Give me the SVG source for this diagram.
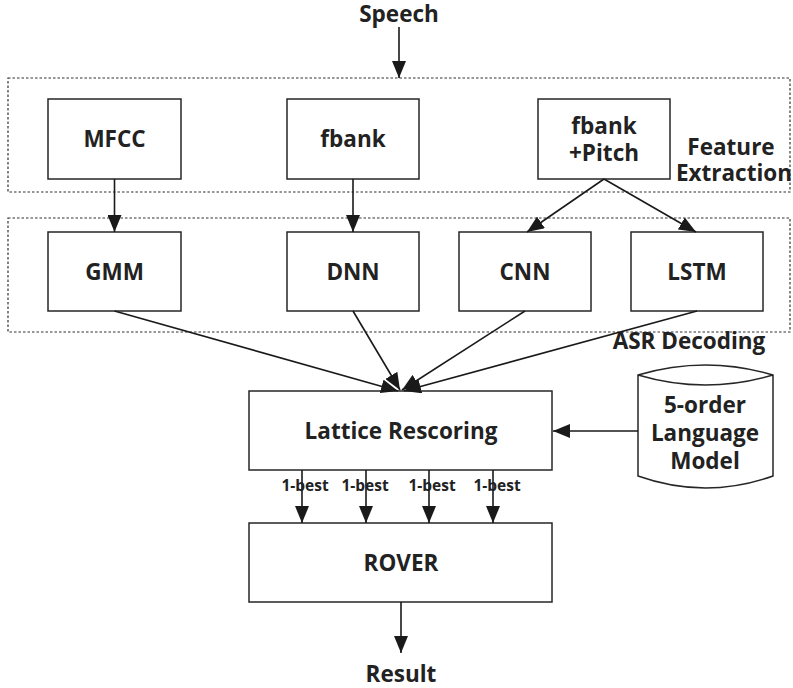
<svg xmlns="http://www.w3.org/2000/svg" width="793" height="688" viewBox="0 0 793 688">
<defs>
<style>
.box{fill:#fff;stroke:#262626;stroke-width:1.5}
.grp{fill:none;stroke:#333;stroke-width:1.2;stroke-dasharray:2.5,2}
.t{font-family:"Open Sans","Liberation Sans",sans-serif;font-weight:700;font-size:22.5px;fill:#222;text-anchor:middle}
.s{font-size:15.5px}
.c{fill:none;stroke:#1a1a1a;stroke-width:1.6}
</style>
<marker id="ah" markerUnits="userSpaceOnUse" markerWidth="18" markerHeight="14" refX="17" refY="7" orient="auto">
<path d="M0,0 L17,7 L0,14 z" fill="#1a1a1a"/>
</marker>
</defs>
<rect width="793" height="688" fill="#fff"/>
<g id="feature-extraction">
<rect class="grp" x="8" y="78" width="782" height="114"/>
<text class="t" x="731" y="155">Feature</text>
<text class="t" x="734" y="181">Extraction</text>
</g>
<g id="asr-decoding">
<rect class="grp" x="8" y="218" width="782" height="114"/>
<text class="t" x="689" y="349">ASR Decoding</text>
</g>
<g id="speech"><text class="t" x="399" y="22">Speech</text></g>
<g id="mfcc"><rect class="box" x="48" y="99" width="133" height="80"/><text class="t" x="114.5" y="147">MFCC</text></g>
<g id="fbank"><rect class="box" x="287" y="99" width="132" height="80"/><text class="t" x="353" y="147">fbank</text></g>
<g id="fbank-pitch"><rect class="box" x="538" y="99" width="132" height="80"/><text class="t" x="604" y="134">fbank</text><text class="t" x="604" y="161">+Pitch</text></g>
<g id="gmm"><rect class="box" x="48" y="232" width="133" height="79"/><text class="t" x="114.5" y="280">GMM</text></g>
<g id="dnn"><rect class="box" x="287" y="232" width="132" height="79"/><text class="t" x="353" y="280">DNN</text></g>
<g id="cnn"><rect class="box" x="459" y="232" width="132" height="79"/><text class="t" x="525" y="280">CNN</text></g>
<g id="lstm"><rect class="box" x="631" y="232" width="132" height="79"/><text class="t" x="697" y="280">LSTM</text></g>
<g id="lattice"><rect class="box" x="249" y="391" width="303" height="79"/><text class="t" x="401" y="439">Lattice Rescoring</text></g>
<g id="language-model">
<path class="box" d="M638,375 Q705.5,355 773,375 L773,476 Q705.5,500 638,476 Z"/>
<path class="c" style="stroke:#262626;stroke-width:1.5" d="M638,375 Q705.5,395 773,375"/>
<text class="t" x="705" y="413">5-order</text>
<text class="t" x="705" y="441">Language</text>
<text class="t" x="705" y="469">Model</text>
</g>
<g id="rover"><rect class="box" x="249" y="523" width="303" height="79"/><text class="t" x="401" y="571">ROVER</text></g>
<g id="result"><text class="t" x="401" y="682">Result</text></g>
<g id="connectors">
<line class="c" x1="399" y1="27" x2="399" y2="78" marker-end="url(#ah)"/>
<line class="c" x1="114.5" y1="179" x2="114.5" y2="232" marker-end="url(#ah)"/>
<line class="c" x1="353" y1="179" x2="353" y2="232" marker-end="url(#ah)"/>
<line class="c" x1="604" y1="179" x2="527" y2="232" marker-end="url(#ah)"/>
<line class="c" x1="604" y1="179" x2="696" y2="232" marker-end="url(#ah)"/>
<line class="c" x1="114.5" y1="311" x2="398" y2="391" marker-end="url(#ah)"/>
<line class="c" x1="353" y1="311" x2="400" y2="390" marker-end="url(#ah)"/>
<line class="c" x1="525" y1="311" x2="402" y2="390" marker-end="url(#ah)"/>
<line class="c" x1="697" y1="311" x2="404" y2="391" marker-end="url(#ah)"/>
<line class="c" x1="638" y1="431" x2="553" y2="431" marker-end="url(#ah)"/>
<line class="c" x1="302" y1="470" x2="302" y2="523" marker-end="url(#ah)"/>
<line class="c" x1="366" y1="470" x2="366" y2="523" marker-end="url(#ah)"/>
<line class="c" x1="429" y1="470" x2="429" y2="523" marker-end="url(#ah)"/>
<line class="c" x1="493" y1="470" x2="493" y2="523" marker-end="url(#ah)"/>
<line class="c" x1="401" y1="602" x2="401" y2="653" marker-end="url(#ah)"/>
<text class="t s" x="305" y="491">1-best</text>
<text class="t s" x="365" y="491">1-best</text>
<text class="t s" x="432" y="491">1-best</text>
<text class="t s" x="497" y="491">1-best</text>
</g>
</svg>
